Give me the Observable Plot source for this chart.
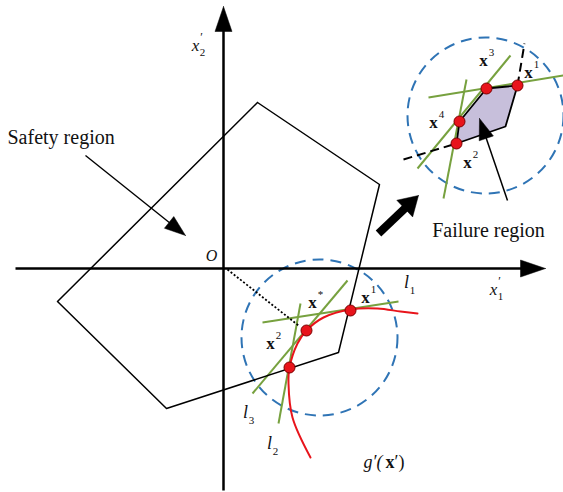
<!DOCTYPE html>
<html><head><meta charset="utf-8">
<script src="https://cdn.jsdelivr.net/npm/d3@7"></script>
<script src="https://cdn.jsdelivr.net/npm/@observablehq/plot@0.6"></script>
<style>html,body{margin:0;padding:0;background:#fff;}</style>
</head><body><div id="chart"></div>
<script>
// Diagram coordinates (x1', x2'), origin at O
const pentagon = [[3.4,16.6],[15.6,8.4],[11.5,-8.4],[-5.7,-14.0],[-16.6,-3.3],[3.4,16.6]];
const failurePolygon = [[26.3,18.0],[29.4,18.3],[28.2,14.2],[23.3,12.5],[23.6,14.7],[26.3,18.0]];
const limitState = [[8.7,-18.9],[6.9,-14.9],[6.5,-11.5],[6.6,-9.9],[7.4,-7.5],[8.3,-6.2],[10.0,-4.9],[12.7,-4.1],[15.4,-4.0],[17.7,-4.3],[19.4,-4.5]];
const tangentLines = [
  [3.9,-5.4,17.5,-3.3],[2.9,-12.5,12.4,-1.2],[5.5,-15.5,7.7,-3.5],
  [20.5,17.1,34.0,19.3],[19.4,10.0,28.7,21.3],[22.0,7.0,24.3,18.9]
];
const dashedEdges = [[18.0,10.9,23.3,12.5],[29.4,18.3,30.1,22.5]];
const pointsMain = [[12.7,-4.2],[8.3,-6.2],[6.6,-9.9]];
const pointsInset = [[29.4,18.3],[26.3,18.0],[23.6,14.7],[23.3,12.5]];
const circleCenters = [[9.6,-6.9],[26.2,15.3]];
const designRay = [[0.4,-0.1,7.5,-5.7]];
const axes = [[-20.8,0,32.2,0],[0,-22.2,0,26.2]];
const pointers = [[-13.8,11.3,-3.8,3.3],[28.4,6.8,25.6,15.0]];
const bigArrow = [[15.5,3.5,19.5,7.3]];

const boldLabels = [
  {x:14.2,y:-2.9,sup:"1"},{x:8.9,y:-3.4,sup:"*"},{x:4.7,y:-7.5,sup:"2"},
  {x:26.0,y:20.8,sup:"3"},{x:30.5,y:19.6,sup:"1"},{x:21.0,y:14.6,sup:"4"},{x:24.4,y:10.6,sup:"2"}
];
const lineLabels = [{x:18.3,y:-1.4,sub:"1"},{x:2.2,y:-14.4,sub:"3"},{x:4.6,y:-17.5,sub:"2"}];
const axisLabels = [{x:-2.8,y:22.3,sub:"2"},{x:27.0,y:-2.1,sub:"1"}];
const safetyLabel = [{x:-21.6,y:13.1,t:"Safety region"}];
const failureLabel = [{x:26.5,y:3.8,t:"Failure region"}];
const originLabel = [{x:-1.2,y:1.3,t:"O"}];
const gLabel = [{x:14.0,y:-19.4}];

function head(a, len, hw, id){
  const [x1,y1,x2,y2]=a, L=Math.hypot(x2-x1,y2-y1), ux=(x2-x1)/L, uy=(y2-y1)/L;
  const bx=x2-ux*len, by=y2-uy*len;
  return [[x2,y2],[bx-uy*hw,by+ux*hw],[bx+uy*hw,by-ux*hw],[x2,y2]].map(p=>({x:p[0],y:p[1],id}));
}
function shaft(a, back){
  const [x1,y1,x2,y2]=a, L=Math.hypot(x2-x1,y2-y1), ux=(x2-x1)/L, uy=(y2-y1)/L;
  return [x1,y1,x2-ux*back,y2-uy*back];
}
const axisHeads = axes.flatMap((a,i)=>head(a,2.5,0.85,"a"+i));
const pointerHeads = pointers.flatMap((a,i)=>head(a,2.1,0.75,"p"+i));
const bigHeads = bigArrow.flatMap((a,i)=>head(a,1.9,1.15,"b"+i));

const serif = "Liberation Serif, Times New Roman, serif";
const L = {x1:d=>d[0],y1:d=>d[1],x2:d=>d[2],y2:d=>d[3]};
const P = {x:d=>d[0],y:d=>d[1]};

const chart = Plot.plot({
  width:563, height:492, margin:0,
  x:{domain:[-22.3,34.0], axis:null},
  y:{domain:[-22.4,26.8], axis:null},
  style:{background:"white", fontFamily:serif},
  marks:[
    Plot.dot(circleCenters,{...P, r:78, fill:"none", stroke:"#2f74b5", strokeWidth:2, strokeDasharray:"11,7"}),
    Plot.line(failurePolygon,{...P, fill:"#c7bfdb", stroke:"none"}),
    Plot.link(tangentLines,{...L, stroke:"#77a13f", strokeWidth:2}),
    Plot.line(limitState,{...P, curve:"catmull-rom", stroke:"#e8141b", strokeWidth:2}),
    Plot.line(pentagon,{...P, stroke:"black", strokeWidth:1.5}),
    Plot.line(failurePolygon,{...P, fill:"none", stroke:"black", strokeWidth:1.8}),
    Plot.link(dashedEdges,{...L, stroke:"black", strokeWidth:2, strokeDasharray:"9,5"}),
    Plot.link(designRay,{...L, stroke:"black", strokeWidth:1.8, strokeDasharray:"2,2"}),
    Plot.link(axes.map(a=>shaft(a,1.5)),{...L, stroke:"black", strokeWidth:2.5}),
    Plot.line(axisHeads,{x:"x",y:"y",z:"id",fill:"black",stroke:"black",strokeWidth:0.5}),
    Plot.link(pointers.map(a=>shaft(a,1.0)),{...L, stroke:"black", strokeWidth:1.5}),
    Plot.line(pointerHeads,{x:"x",y:"y",z:"id",fill:"black",stroke:"black",strokeWidth:0.5}),
    Plot.link(bigArrow.map(a=>shaft(a,1.2)),{...L, stroke:"black", strokeWidth:8}),
    Plot.line(bigHeads,{x:"x",y:"y",z:"id",fill:"black",stroke:"black",strokeWidth:0.5}),
    Plot.dot(pointsMain.concat(pointsInset),{...P, r:5.5, fill:"#e8141b", stroke:"#7a0000", strokeWidth:1}),
    Plot.text(boldLabels,{x:"x",y:"y",text:()=>"x",fontWeight:"bold",fontSize:17,fill:"#111"}),
    Plot.text(boldLabels,{x:"x",y:"y",text:"sup",fontSize:11,dx:8,dy:-8,fill:"#111"}),
    Plot.text(lineLabels,{x:"x",y:"y",text:()=>"l",fontStyle:"italic",fontSize:18,fill:"#111"}),
    Plot.text(lineLabels,{x:"x",y:"y",text:"sub",fontSize:11,dx:6,dy:8,fill:"#111"}),
    Plot.text(axisLabels,{x:"x",y:"y",text:()=>"x",fontStyle:"italic",fontSize:17,fill:"#111"}),
    Plot.text(axisLabels,{x:"x",y:"y",text:()=>"′",fontSize:12,dx:6,dy:-8,fill:"#111"}),
    Plot.text(axisLabels,{x:"x",y:"y",text:"sub",fontSize:11,dx:7,dy:7,fill:"#111"}),
    Plot.text(originLabel,{x:"x",y:"y",text:"t",fontStyle:"italic",fontSize:16,fill:"#111"}),
    Plot.text(safetyLabel,{x:"x",y:"y",text:"t",textAnchor:"start",fontSize:20,fill:"#111"}),
    Plot.text(failureLabel,{x:"x",y:"y",text:"t",textAnchor:"middle",fontSize:20,fill:"#111"}),
    Plot.text(gLabel,{x:"x",y:"y",text:()=>"g′(",textAnchor:"start",fontStyle:"italic",fontSize:18,fill:"#111"}),
    Plot.text(gLabel,{x:"x",y:"y",text:()=>"x",textAnchor:"start",fontWeight:"bold",fontSize:18,dx:22,fill:"#111"}),
    Plot.text(gLabel,{x:"x",y:"y",text:()=>"′)",textAnchor:"start",fontSize:18,dx:31,fill:"#111"})
  ]
});
document.getElementById("chart").appendChild(chart);
</script>
</body></html>
